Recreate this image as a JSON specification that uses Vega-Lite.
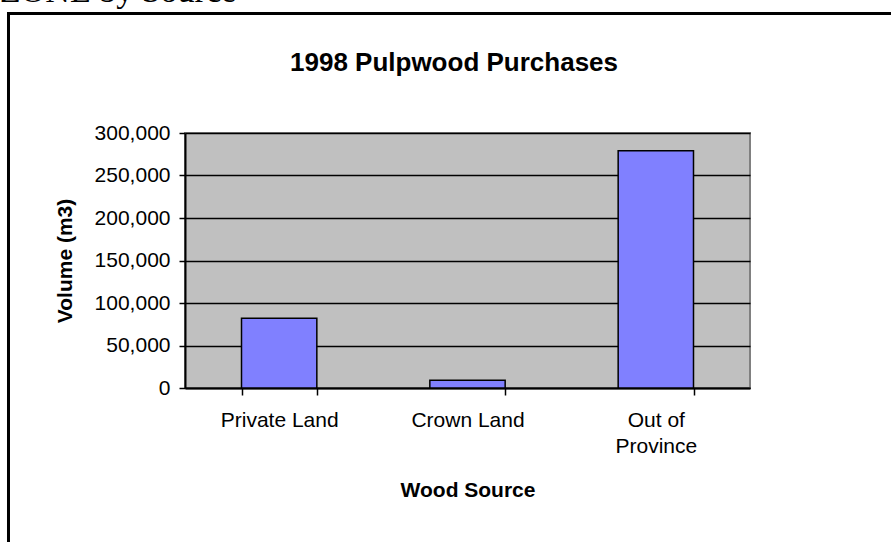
{
  "$schema": "https://vega.github.io/schema/vega-lite/v6.json",
  "width": 565,
  "height": 255,
  "autosize": "none",
  "padding": {"left": 185, "top": 133, "right": 141, "bottom": 154},
  "background": "white",
  "config": {
    "view": {"fill": "#C0C0C0", "stroke": "#808080", "strokeWidth": 2},
    "axis": {
      "labelFont": "Liberation Sans",
      "labelFontSize": 21,
      "labelColor": "black",
      "titleFont": "Liberation Sans",
      "titleFontSize": 21,
      "titleFontWeight": "bold",
      "titleColor": "black",
      "domainColor": "black",
      "domainWidth": 2,
      "tickColor": "black",
      "tickWidth": 1.5
    }
  },
  "layer": [
    {
      "data": {
        "values": [
          {"source": "Private Land", "volume": 82000},
          {"source": "Crown Land", "volume": 9000},
          {"source": "Out of Province", "volume": 279000}
        ]
      },
      "mark": {"type": "bar", "fill": "#8080FF", "stroke": "black", "strokeWidth": 1.5},
      "encoding": {
        "x": {
          "field": "source",
          "type": "nominal",
          "sort": null,
          "scale": {"paddingInner": 0.6, "paddingOuter": 0.3},
          "axis": {
            "title": "Wood Source",
            "labelAngle": 0,
            "tickBand": "extent",
            "tickSize": 7,
            "labelPadding": 14,
            "labelLineHeight": 26,
            "titlePadding": 23,
            "labelExpr": "datum.label == 'Out of Province' ? ['Out of', 'Province'] : datum.label"
          }
        },
        "y": {
          "field": "volume",
          "type": "quantitative",
          "scale": {"domain": [0, 300000], "nice": false},
          "axis": {
            "title": "Volume (m3)",
            "values": [0, 50000, 100000, 150000, 200000, 250000, 300000],
            "format": ",.0f",
            "tickSize": 6,
            "labelPadding": 9,
            "titlePadding": 19,
            "grid": true,
            "gridColor": "black",
            "gridWidth": 1.7,
            "gridOpacity": 1
          }
        }
      }
    },
    {
      "data": {"values": [{"heading": "ZONE by Source", "title": "1998 Pulpwood Purchases"}]},
      "layer": [
        {
          "mark": {"type": "rect", "fill": null, "fillOpacity": 0, "stroke": "black", "strokeWidth": 3},
          "encoding": {
            "x": {"datum": -0.3124, "type": "quantitative", "scale": {"domain": [0, 1], "nice": false, "zero": false}, "axis": null},
            "x2": {"datum": 1.2655},
            "y": {"datum": 1.4685, "type": "quantitative", "scale": {"domain": [0, 1], "nice": false, "zero": false}, "axis": null},
            "y2": {"datum": -0.6745}
          }
        },
        {
          "mark": {"type": "text", "font": "Liberation Serif", "fontSize": 34, "align": "left", "baseline": "alphabetic", "color": "black"},
          "encoding": {
            "text": {"field": "heading"},
            "x": {"datum": -0.3274, "type": "quantitative", "axis": null},
            "y": {"datum": 1.5137, "type": "quantitative", "axis": null}
          }
        },
        {
          "mark": {"type": "text", "font": "Liberation Sans", "fontSize": 26, "fontWeight": "bold", "align": "center", "baseline": "alphabetic", "color": "black"},
          "encoding": {
            "text": {"field": "title"},
            "x": {"datum": 0.4761, "type": "quantitative", "axis": null},
            "y": {"datum": 1.2431, "type": "quantitative", "axis": null}
          }
        }
      ]
    }
  ],
  "resolve": {"scale": {"x": "independent", "y": "independent"}}
}
